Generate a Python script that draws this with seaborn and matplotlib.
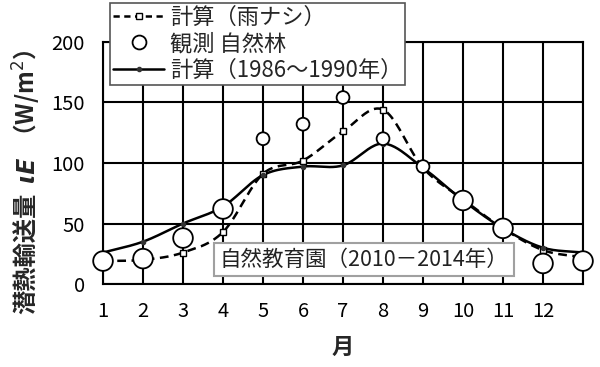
import numpy as np
import matplotlib
matplotlib.use("Agg")
import matplotlib.pyplot as plt
from matplotlib.lines import Line2D
import seaborn as sns

# Data (month 13 = following January)
months = [1, 2, 3, 4, 5, 6, 7, 8, 9, 10, 11, 12, 13]
month_labels = ["1", "2", "3", "4", "5", "6", "7", "8", "9", "10", "11", "12", ""]
calc_no_rain = [19, 20, 26, 43, 91, 102, 126, 144, 96, 70, 46, 28, 22]
obs_forest = [19, 21, 38, 62, 120, 132, 154, 120, 97, 69, 46, 17, 19]
calc_1986_1990 = [26, 35, 50, 64, 90, 97, 98, 116, 96, 69, 46, 30, 26]

# marker diameters in the original differ per month (pt^2)
obs_size = [200, 200, 200, 200, 85, 85, 85, 85, 85, 200, 200, 200, 200]

sns.set_theme(style="white")
plt.rcParams["font.family"] = ["Noto Sans CJK JP", "DejaVu Sans"]


def smooth(x, y, n=24):
    # Catmull-Rom curve through the points, like Excel's smoothed line
    x = np.asarray(x, float)
    y = np.asarray(y, float)
    px = np.concatenate([[2 * x[0] - x[1]], x, [2 * x[-1] - x[-2]]])
    py = np.concatenate([[2 * y[0] - y[1]], y, [2 * y[-1] - y[-2]]])
    xs, ys = [], []
    for i in range(1, len(px) - 2):
        t = np.linspace(0, 1, n, endpoint=False)
        for p, out in ((px, xs), (py, ys)):
            p0, p1, p2, p3 = p[i - 1], p[i], p[i + 1], p[i + 2]
            out.extend(0.5 * ((2 * p1) + (-p0 + p2) * t
                              + (2 * p0 - 5 * p1 + 4 * p2 - p3) * t ** 2
                              + (-p0 + 3 * p1 - 3 * p2 + p3) * t ** 3))
    xs.append(x[-1])
    ys.append(y[-1])
    return np.array(xs), np.array(ys)


fig = plt.figure(figsize=(6, 3.67), dpi=100)
ax = fig.add_axes([0.1717, 0.226, 0.8, 0.66])

# grid
ax.set_xlim(1, 13)
ax.set_ylim(0, 200)
ax.set_xticks(months)
ax.set_xticklabels(month_labels)
ax.set_yticks([0, 50, 100, 150, 200])
ax.grid(True, color="black", linewidth=1.5)
ax.set_axisbelow(True)
for s in ax.spines.values():
    s.set_color("black")
    s.set_linewidth(1.5)
ax.tick_params(axis="both", length=0, labelsize=14.5, colors="black")
ax.tick_params(axis="x", pad=12)
ax.tick_params(axis="y", pad=13)

# calculated lines
sx, sy = smooth(months, calc_no_rain)
ax.plot(sx, sy, color="black", lw=1.8, ls=(0, (3.5, 2.2)), zorder=3)
ax.plot(months, calc_no_rain, ls="none", marker="s", ms=5, mfc="white",
        mec="black", mew=1, zorder=4)

sx, sy = smooth(months, calc_1986_1990)
ax.plot(sx, sy, color="black", lw=1.8, zorder=3)
ax.plot(months, calc_1986_1990, ls="none", marker="o", ms=3, color="#333333",
        zorder=4)

# observations
sns.scatterplot(x=months, y=obs_forest, s=obs_size, marker="o", color="white",
                edgecolor="black", linewidth=1.3, ax=ax, zorder=5, clip_on=False,
                legend=False)

# site annotation
ax.text(0.243, 0.1, "自然教育園（2010－2014年）", transform=ax.transAxes,
        fontsize=15.5, color="#222222", va="center", ha="left", zorder=6,
        bbox=dict(boxstyle="square,pad=0.25", fc="white", ec="#a0a0a0", lw=1.5))

# legend
handles = [
    Line2D([], [], color="black", lw=1.8, ls=(0, (2.5, 1.8)), marker="s", ms=5,
           mfc="white", mec="black"),
    Line2D([], [], ls="none", marker="o", ms=10, mfc="white", mec="black", mew=1.3),
    Line2D([], [], color="black", lw=1.8, marker="o", ms=3, mfc="#333333",
           mec="#333333"),
]
labels = ["計算（雨ナシ）", "観測 自然林", "計算（1986～1990年）"]
leg = ax.legend(handles, labels, loc="upper left", bbox_to_anchor=(0.014, 1.162),
                fontsize=16, handlelength=2.3, handletextpad=0.25, labelspacing=0.15,
                borderpad=0.15, fancybox=False, framealpha=1, borderaxespad=0)
leg.get_frame().set_edgecolor("#555555")
leg.get_frame().set_linewidth(1.2)
leg.set_zorder(10)

ax.set_xlabel("月", fontsize=16, fontweight="bold", labelpad=10)

# y label in three pieces (italic symbol in the middle)
fig.text(0.045, 0.31, "潜熱輸送量", rotation=90, fontsize=17.5, fontweight="bold",
         ha="center", va="center")
fig.text(0.045, 0.54, "ιE", rotation=90, fontsize=17, fontweight="bold",
         style="italic", ha="center", va="center", family=["DejaVu Sans"])
fig.text(0.045, 0.73, "（W/m$^2$）", rotation=90, fontsize=17, fontweight="bold",
         ha="center", va="center")

fig.savefig("out.png", dpi=100)
